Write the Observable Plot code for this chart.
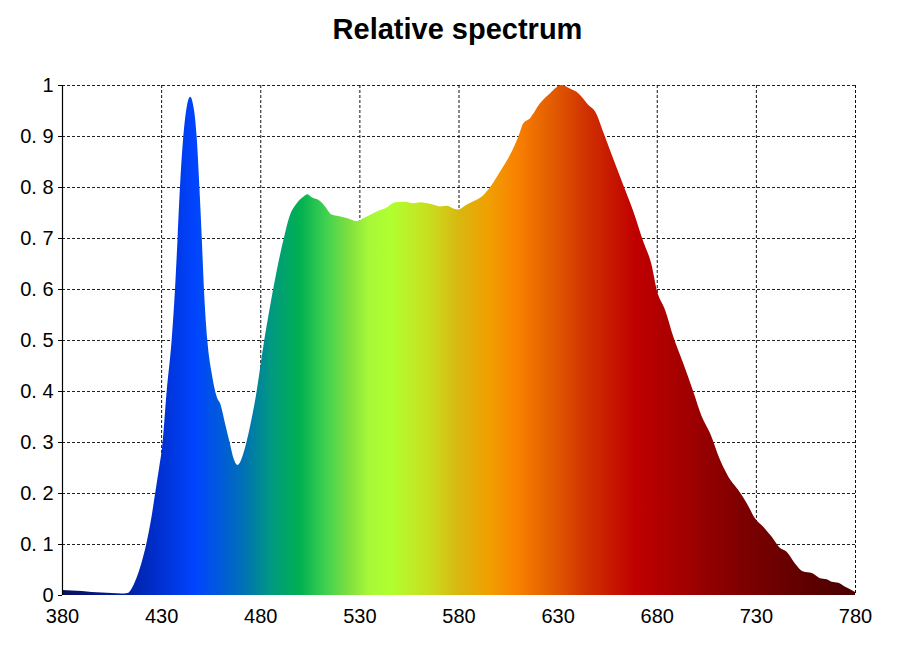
<!DOCTYPE html>
<html>
<head>
<meta charset="utf-8">
<script src="https://cdn.jsdelivr.net/npm/d3@7"></script>
<script src="https://cdn.jsdelivr.net/npm/@observablehq/plot@0.6"></script>
<style>
  html, body { margin: 0; padding: 0; background: #fff; }
  #title { width: 915px; height: 58px; line-height: 58px; text-align: center;
           font-family: "Liberation Sans", Arial, sans-serif; font-weight: bold; font-size: 29px; color: #000; }
</style>
</head>
<body>
<div id="title">Relative spectrum</div>
<div id="chart"></div>
<script>
const wavelength = [380,385,390,395,400,405,410,413,415,417.5,420,422.5,425,427,429,430.5,432.8,435.3,437,438.3,439.5,441.2,442.9,444.6,446.6,447.9,449.3,450.5,451.6,453.3,455.5,458,460,462.2,464.7,466.5,468.4,470,471.5,474.8,478.2,481.5,484.9,488,491.6,495,498.4,501.7,503.7,506,510,512.7,516,519.4,523.6,528.6,532.8,538.7,543.8,548,553,557.2,560.6,566.5,570.7,574,577.4,580,584,588,592.5,596.7,600.9,606,610.2,612.7,616.1,621.1,626.2,632,636.2,640.4,645.5,648.9,653,658,663.1,668.2,673.2,677.4,680,684.2,688.4,693.4,698.4,702.7,706.9,711.9,716.1,721.1,725.4,729.6,733.7,738,742.2,745.5,749.7,753.9,758.2,762.3,765.7,768.2,771.6,775,779.1,780];
const intensity = [0.010,0.009,0.008,0.006,0.005,0.004,0.003,0.004,0.012,0.033,0.062,0.100,0.15,0.20,0.25,0.29,0.40,0.50,0.60,0.70,0.80,0.90,0.957,0.977,0.951,0.90,0.80,0.70,0.60,0.50,0.435,0.389,0.373,0.337,0.297,0.268,0.255,0.262,0.278,0.33,0.40,0.487,0.565,0.63,0.695,0.745,0.768,0.781,0.786,0.780,0.773,0.762,0.746,0.743,0.739,0.733,0.740,0.752,0.760,0.770,0.771,0.768,0.770,0.766,0.762,0.763,0.758,0.756,0.765,0.773,0.784,0.804,0.830,0.863,0.899,0.925,0.935,0.964,0.984,1.0,0.993,0.984,0.961,0.948,0.908,0.856,0.804,0.752,0.693,0.647,0.598,0.559,0.506,0.454,0.399,0.350,0.317,0.265,0.232,0.206,0.180,0.150,0.134,0.114,0.092,0.085,0.062,0.046,0.043,0.033,0.031,0.026,0.024,0.016,0.008,0.006];

const xTicks = [380,430,480,530,580,630,680,730,780];
const yTicks = [0,0.1,0.2,0.3,0.4,0.5,0.6,0.7,0.8,0.9,1];
const yTickLabels = ["0","0. 1","0. 2","0. 3","0. 4","0. 5","0. 6","0. 7","0. 8","0. 9","1"];

const stopWavelength = [380,412,429,447,463,473,486,500,513,525,535,546,564,580,595,610,629,645,669,696,721,746,780];
const stopColor = ["#0a0f5a","#0020a0","#0030d0","#0044ff","#0060d0","#0075b0","#009a80","#00b050","#40d050","#80e040","#a8f838","#b0ff30","#c8e020","#d8b810","#f0a000","#f88000","#e05800","#d03000","#c00000","#a00000","#800000","#680000","#480000"];

const data = wavelength.map((w, i) => ({w, v: intensity[i]}));

const chart = Plot.plot({
  width: 915,
  height: 596,
  marginTop: 27,
  marginBottom: 59,
  marginLeft: 62,
  marginRight: 60,
  style: {fontFamily: "'Liberation Sans', Arial, sans-serif", fontSize: "20px", color: "#000", background: "#fff"},
  x: {domain: [380, 780], ticks: xTicks, tickSize: 0, tickPadding: 13, tickFormat: d => String(d), label: null},
  y: {domain: [0, 1], ticks: yTicks, tickSize: 4, tickPadding: 5, tickFormat: d => yTickLabels[yTicks.indexOf(d)] ?? "", label: null},
  marks: [
    Plot.ruleY(yTicks.slice(1), {stroke: "#222", strokeWidth: 1, strokeDasharray: "3,2"}),
    Plot.ruleX(xTicks.slice(1), {stroke: "#111", strokeWidth: 1, strokeDasharray: "3,2"}),
    Plot.areaY(data, {x: "w", y: "v", fill: "url(#specgrad)", curve: "monotone-x"}),
    Plot.ruleX([380], {stroke: "#000", strokeWidth: 1.2})
  ]
});

const xs = chart.scale("x");
const ns = "http://www.w3.org/2000/svg";
const defs = document.createElementNS(ns, "defs");
const grad = document.createElementNS(ns, "linearGradient");
grad.setAttribute("id", "specgrad");
grad.setAttribute("gradientUnits", "userSpaceOnUse");
grad.setAttribute("x1", xs.apply(380));
grad.setAttribute("x2", xs.apply(780));
grad.setAttribute("y1", 0);
grad.setAttribute("y2", 0);
stopWavelength.forEach((w, i) => {
  const s = document.createElementNS(ns, "stop");
  s.setAttribute("offset", ((w - 380) / 400).toFixed(4));
  s.setAttribute("stop-color", stopColor[i]);
  grad.appendChild(s);
});
defs.appendChild(grad);
chart.insertBefore(defs, chart.firstChild);

document.getElementById("chart").appendChild(chart);
</script>
</body>
</html>
